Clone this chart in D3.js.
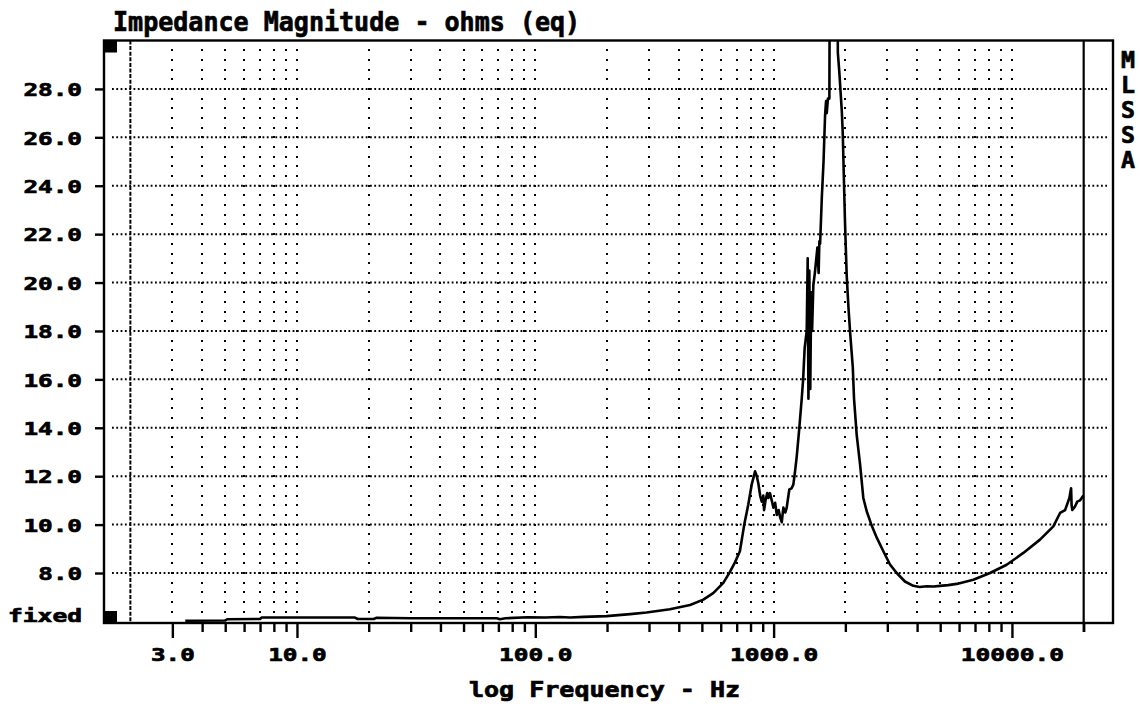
<!DOCTYPE html>
<html>
<head>
<meta charset="utf-8">
<script src="https://cdn.jsdelivr.net/npm/d3@7"></script>
<style>
  body { margin: 0; background: #fff; }
  text { font-family: "DejaVu Sans Mono", monospace; font-weight: bold; fill: #000; stroke: #000; stroke-width: 0.7px; }
</style>
</head>
<body>
<div class="chart-container"></div>
<script>
// impedance curve (Hz, ohms)
const freqHz = [3.4, 5.0, 5.1, 7.0, 7.1, 17.5, 18, 21, 21.5, 30, 69, 71, 75, 93, 110, 127, 140, 160, 199, 250,
  293, 367, 446, 507, 558, 615, 656, 689, 722, 753, 783, 809, 836, 850, 863, 878, 892, 905, 912, 925,
  940, 951, 965, 982, 998, 1015, 1031, 1050, 1065, 1082, 1090, 1099, 1120, 1135, 1150, 1164, 1190, 1210, 1230, 1250,
  1282, 1312, 1330, 1350, 1377, 1390, 1400, 1412, 1425, 1438, 1450, 1468, 1490, 1507, 1527, 1545, 1556, 1567, 1593, 1620,
  1644, 1660, 1671, 1690, 1714, 1720, 1800, 1855, 1860, 1888, 1932, 1950, 1974, 1993, 2026, 2060, 2093, 2149, 2175, 2232,
  2305, 2379, 2458, 2582, 2709, 2887, 3078, 3285, 3557, 3855, 4100, 4389, 4700, 4990, 5400, 5865, 6888, 8091, 9505, 11165,
  13117, 14920, 15920, 16710, 17420, 17710, 17800, 17920, 18390, 18800, 19300, 19940];
const ohms = [6.03, 6.04, 6.09, 6.10, 6.16, 6.16, 6.10, 6.10, 6.15, 6.13, 6.13, 6.09, 6.13, 6.17, 6.16, 6.18, 6.16, 6.19, 6.22, 6.30,
  6.37, 6.50, 6.68, 6.90, 7.17, 7.59, 8.05, 8.45, 8.9, 10.0, 10.83, 11.65, 12.2, 12.0, 11.7, 11.2, 10.95, 11.2, 10.6, 11.0,
  11.3, 11.1, 11.3, 11.0, 10.7, 10.9, 10.4, 10.6, 10.3, 10.1, 10.4, 10.7, 10.5, 10.7, 11.1, 11.45, 11.5, 11.65, 12.2, 12.8,
  14.0, 15.2, 16.0, 17.3, 18.0, 21.0, 15.2, 20.5, 15.6, 19.6, 18.0, 19.9, 20.4, 20.9, 21.45, 20.4, 21.7, 21.6, 23.5, 25.0,
  26.9, 27.5, 27.0, 27.6, 27.6, 33, 40, 33, 29.5, 28.65, 27.1, 26.2, 24.1, 22.5, 20.3, 19.0, 17.97, 16.5, 15.2, 13.7,
  12.5, 11.1, 10.55, 9.95, 9.46, 8.9, 8.35, 8.0, 7.65, 7.47, 7.42, 7.45, 7.44, 7.47, 7.5, 7.55, 7.72, 8.0, 8.34, 8.83,
  9.38, 9.93, 10.48, 10.6, 11.1, 11.5, 10.8, 10.6, 10.75, 10.95, 11.0, 11.2];

// axis ticks and labels
const yTicks = [8, 10, 12, 14, 16, 18, 20, 22, 24, 26, 28];
const xTicks = [3, 10, 100, 1000, 10000];
const xTickLabels = ["3.0", "10.0", "100.0", "1000.0", "10000.0"];
const xDomain = [1.55, 26550];
const yDomain = [5.935, 30];
const markerFreqs = [2, 20000]; // dashed start marker, solid stop marker
const sideLetters = ["M", "L", "S", "S", "A"];
const chartTitle = "Impedance Magnitude - ohms (eq)";
const xTitle = "log Frequency - Hz";
const bottomLabel = "fixed";

const svg_width = 1140, svg_height = 709;
const plot = { left: 104, right: 1113, top: 40.5, bottom: 623 };
const charW = 14.9; // every text in the picture is ~15px per character

const svg = d3.select('.chart-container').append('svg')
  .attr('width', svg_width).attr('height', svg_height);

const xScale = d3.scaleLog().domain(xDomain).range([plot.left, plot.right]);
const yScale = d3.scaleLinear().domain(yDomain).range([plot.bottom, plot.top]);

// minor frequencies 3..20000 (1-9 per decade)
const minorFreqs = [];
[1, 10, 100, 1000, 10000].forEach(dec => d3.range(1, 10).forEach(m => {
  const f = dec * m;
  if (f >= 3 && f <= 20000) minorFreqs.push(f);
}));
const gridCols = minorFreqs.filter(f => f <= 10000);
// dot rows every 0.4 ohm
const dotRows = d3.range(-4, 55).map(k => 8 + 0.4 * k).filter(v => v > yDomain[0] + 0.2 && v < yDomain[1] - 0.2);

// vertical dotted columns
const dots = [];
gridCols.forEach(f => dotRows.forEach(v => dots.push({ f, v })));
svg.append('g').selectAll('rect').data(dots).enter().append('rect')
  .attr('x', d => Math.round(xScale(d.f)) - 1)
  .attr('y', d => Math.round(yScale(d.v)) - 1)
  .attr('width', 2).attr('height', 2)
  .style('fill', '#000');

// horizontal dotted lines
svg.append('g').selectAll('line').data(yTicks).enter().append('line')
  .attr('x1', plot.left + 8).attr('x2', plot.right - 6)
  .attr('y1', d => yScale(d)).attr('y2', d => yScale(d))
  .style('stroke', '#000').style('stroke-width', 2)
  .style('stroke-dasharray', '1.8,2.5');

// markers
svg.append('line')
  .attr('x1', xScale(markerFreqs[0])).attr('x2', xScale(markerFreqs[0]))
  .attr('y1', plot.top).attr('y2', plot.bottom)
  .style('stroke', '#000').style('stroke-width', 2).style('stroke-dasharray', '4,1.6');
svg.append('line')
  .attr('x1', xScale(markerFreqs[1])).attr('x2', xScale(markerFreqs[1]))
  .attr('y1', plot.top).attr('y2', plot.bottom + 9)
  .style('stroke', '#000').style('stroke-width', 2.2);

// curve
svg.append('clipPath').attr('id', 'plotclip').append('rect')
  .attr('x', plot.left).attr('y', plot.top)
  .attr('width', plot.right - plot.left).attr('height', plot.bottom - plot.top);
const curve = d3.zip(freqHz, ohms);
const line = d3.line().x(d => xScale(d[0])).y(d => yScale(d[1]));
svg.append('path').datum(curve)
  .attr('d', line)
  .attr('clip-path', 'url(#plotclip)')
  .style('fill', 'none').style('stroke', '#000').style('stroke-width', 2.6)
  .style('stroke-linejoin', 'round');

// frame
svg.append('rect')
  .attr('x', plot.left).attr('y', plot.top)
  .attr('width', plot.right - plot.left).attr('height', plot.bottom - plot.top)
  .style('fill', 'none').style('stroke', '#000').style('stroke-width', 2.4);

// small black squares on the left edge
svg.append('rect').attr('x', plot.left).attr('y', plot.top).attr('width', 13).attr('height', 12).style('fill', '#000');
svg.append('rect').attr('x', plot.left).attr('y', plot.bottom - 12).attr('width', 13).attr('height', 12).style('fill', '#000');

// y axis
const yAxis = d3.axisLeft(yScale).tickValues(yTicks).tickFormat(d3.format('.1f'))
  .tickSizeInner(9).tickSizeOuter(0).tickPadding(13);
const yAxisDraw = svg.append('g').attr('transform', `translate(${plot.left},0)`).call(yAxis);
yAxisDraw.select('.domain').remove();
yAxisDraw.selectAll('line').style('stroke-width', 2.4);
yAxisDraw.selectAll('text')
  .style('font-size', '18.5px').style('font-family', '"DejaVu Sans Mono", monospace')
  .attr('dy', '6.7').attr('x', -22)
  .attr('textLength', function () { return this.textContent.length * charW - 1; })
  .attr('lengthAdjust', 'spacingAndGlyphs');

// x axis: labelled ticks long, others short
const xAxis = d3.axisBottom(xScale).tickValues(minorFreqs)
  .tickFormat(d => { const i = xTicks.indexOf(d); return i >= 0 ? xTickLabels[i] : ''; })
  .tickSizeInner(9).tickSizeOuter(0).tickPadding(12);
const xAxisDraw = svg.append('g').attr('transform', `translate(0,${plot.bottom})`).call(xAxis);
xAxisDraw.select('.domain').remove();
xAxisDraw.selectAll('line').style('stroke-width', 2.4)
  .attr('y2', d => xTicks.includes(d) ? 15 : 9);
xAxisDraw.selectAll('text')
  .style('font-size', '18.5px').style('font-family', '"DejaVu Sans Mono", monospace')
  .attr('y', 37.7).attr('dy', 0)
  .attr('textLength', function () { return this.textContent.length ? this.textContent.length * charW - 1 : null; })
  .attr('lengthAdjust', 'spacingAndGlyphs');

// titles
svg.append('text').attr('x', 113).attr('y', 31).text(chartTitle)
  .style('font-size', '26px')
  .attr('textLength', chartTitle.length * 15.07).attr('lengthAdjust', 'spacingAndGlyphs');
svg.append('text').attr('x', 469).attr('y', 697).text(xTitle)
  .style('font-size', '21px')
  .attr('textLength', xTitle.length * 15.06).attr('lengthAdjust', 'spacingAndGlyphs');
svg.append('text').attr('x', 8).attr('y', 622).text(bottomLabel)
  .style('font-size', '18px')
  .attr('textLength', 74).attr('lengthAdjust', 'spacingAndGlyphs');

// side letters
svg.append('g').selectAll('text').data(sideLetters).enter().append('text')
  .attr('x', 1121).attr('y', (d, i) => 68 + i * 25)
  .text(d => d)
  .style('font-size', '23px')
  .attr('textLength', 14).attr('lengthAdjust', 'spacingAndGlyphs');
</script>
</body>
</html>
